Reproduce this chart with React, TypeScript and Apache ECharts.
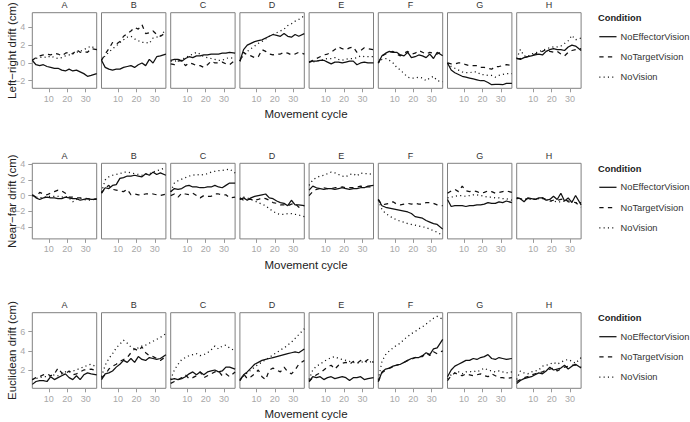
import React, { useEffect, useRef } from "react";
import * as echarts from "echarts";

const cycles = [1, 3, 5, 7, 9, 11, 13, 15, 17, 19, 21, 23, 25, 27, 29, 31, 33, 36];
const panels = ["A", "B", "C", "D", "E", "F", "G", "H"];
const conditions = ["NoEffectorVision", "NoTargetVision", "NoVision"];
const xTicks = [10, 20, 30];
const lrTicks = [-2, 0, 2, 4];
const nfTicks = [-4, -2, 0, 2, 4];
const euTicks = [2, 4, 6];

// Left-right drift (cm)
const lrNoEffector = [
  [0.3, -0.2, -0.3, -0.2, -0.4, -0.5, -0.6, -0.6, -0.8, -0.9, -0.7, -0.9, -0.8, -1.0, -1.2, -1.5, -1.4, -1.2],
  [0.3, -0.5, -0.7, -0.8, -0.7, -0.7, -0.5, -0.4, -0.3, -0.5, -0.2, 0.0, -0.3, 0.4, 0.0, 0.7, 0.8, 1.0],
  [0.3, 0.4, 0.4, 0.2, 0.5, 0.7, 0.6, 0.8, 0.8, 0.9, 0.9, 1.0, 1.0, 1.0, 1.1, 1.1, 1.2, 1.1],
  [0.2, 1.5, 2.0, 2.2, 2.4, 2.5, 2.6, 2.8, 3.0, 3.2, 3.1, 3.0, 3.3, 3.0, 2.9, 3.2, 3.0, 3.3],
  [0.1, 0.2, 0.2, 0.3, 0.3, 0.1, -0.1, 0.1, 0.1, 0.0, 0.1, 0.2, 0.2, -0.2, 0.0, 0.1, 0.0, 0.0],
  [0.0, 0.8, 1.1, 1.3, 1.2, 1.2, 0.9, 0.8, 1.2, 0.6, 0.7, 0.9, 0.8, 0.6, 1.0, 0.5, 1.2, 0.8],
  [0.0, -0.8, -1.1, -1.3, -1.5, -1.6, -1.7, -1.8, -1.9, -2.0, -2.0, -2.2, -2.45, -2.4, -2.4, -2.45, -2.3, -2.3],
  [0.5, 0.4, 0.6, 0.7, 0.8, 0.9, 1.0, 0.9, 1.3, 1.5, 1.6, 1.5, 1.5, 1.4, 1.8, 2.0, 1.9, 1.4],
];
const lrNoTarget = [
  [0.3, 0.6, 0.8, 0.9, 1.0, 0.9, 1.1, 1.0, 0.8, 1.1, 1.2, 1.0, 1.5, 1.2, 1.3, 1.2, 1.6, 1.5],
  [0.3, 1.0, 1.6, 2.3, 2.1, 2.4, 3.0, 3.3, 3.6, 4.0, 3.8, 4.3, 3.3, 3.4, 3.6, 3.2, 3.0, 3.4],
  [-0.1, -0.2, 0.2, 0.3, -0.3, 0.0, -0.1, -0.3, -0.3, -0.5, -0.2, 0.2, 0.0, 0.0, 0.1, -0.1, -0.2, 0.3],
  [0.2, 1.2, 0.9, 0.8, 0.6, 0.7, 1.5, 1.3, 1.0, 0.9, 1.0, 1.0, 1.2, 1.1, 0.9, 1.0, 1.2, 1.0],
  [0.1, 0.3, 0.5, 0.7, 0.9, 1.0, 1.2, 1.5, 1.8, 1.6, 1.5, 1.7, 1.8, 1.2, 1.4, 1.7, 1.6, 1.5],
  [0.0, 0.8, 1.0, 1.2, 1.3, 1.0, 0.8, 1.1, 1.3, 1.0, 1.1, 1.4, 1.2, 1.0, 1.2, 1.1, 1.0, 1.3],
  [0.0, -0.1, -0.1, 0.0, 0.0, -0.2, -0.3, -0.3, -0.3, -0.5, -0.5, -0.6, -0.7, -0.4, -0.4, -0.3, -0.2, -0.3],
  [0.5, 0.5, 0.6, 0.7, 0.9, 1.0, 1.2, 1.3, 1.5, 1.3, 1.2, 1.3, 1.0, 0.8, 1.2, 1.4, 1.5, 1.6],
];
const lrNoVision = [
  [0.3, 0.5, 0.6, 0.7, 0.6, 0.8, 0.6, 0.5, 0.6, 0.8, 0.9, 1.1, 1.2, 1.3, 1.5, 1.7, 1.9, 1.5],
  [0.3, 0.8, 1.2, 1.6, 1.9, 2.3, 2.6, 2.9, 3.0, 2.7, 2.5, 2.3, 2.3, 2.2, 2.8, 2.9, 3.0, 3.8],
  [0.2, 0.2, 0.3, 0.4, 0.6, 0.8, 1.0, 1.2, 1.0, 0.7, 0.6, 0.5, 0.4, 0.3, 0.3, 0.5, 0.6, 0.5],
  [0.2, 0.9, 1.3, 1.6, 1.9, 2.2, 2.4, 2.7, 3.0, 3.2, 3.4, 3.6, 3.8, 4.2, 4.4, 4.7, 4.9, 5.3],
  [0.1, 0.1, 0.2, 0.3, 0.4, 0.5, 0.5, 0.6, 0.4, 0.3, 0.4, 0.5, 0.5, 0.6, 0.8, 0.7, 0.7, 0.7],
  [0.0, 0.4, 0.5, 0.3, 0.0, -0.5, -0.8, -1.2, -1.6, -1.7, -1.7, -1.6, -1.7, -2.0, -1.7, -1.5, -2.0, -2.1],
  [0.0, -0.4, -0.6, -0.8, -1.0, -1.1, -1.1, -1.0, -1.0, -1.3, -1.3, -1.4, -1.4, -1.6, -1.4, -1.3, -1.2, -1.2],
  [0.5, 1.5, 0.8, 0.7, 1.0, 1.1, 1.3, 1.4, 1.6, 1.7, 1.8, 1.8, 1.9, 2.2, 2.5, 3.1, 2.6, 2.8],
];

// Near-far drift (cm)
const nfNoEffector = [
  [0.1, -0.3, -0.5, -0.3, -0.2, -0.3, -0.3, -0.4, -0.4, -0.2, -0.3, -0.4, -0.4, -0.6, -0.5, -0.4, -0.5, -0.5],
  [0.3, 1.0, 0.9, 1.3, 1.4, 2.2, 2.3, 2.5, 2.5, 2.6, 2.5, 2.4, 2.8, 2.6, 3.0, 2.7, 2.9, 2.6],
  [0.5, 0.9, 0.8, 0.9, 1.2, 1.3, 1.1, 1.1, 1.0, 1.0, 1.1, 1.1, 1.3, 1.1, 1.0, 1.3, 1.6, 1.6],
  [-0.5, -0.3, -0.6, -0.3, -0.1, 0.0, 0.1, 0.2, -0.3, -0.4, -0.7, -0.9, -1.0, -1.3, -0.6, -1.2, -1.2, -1.3],
  [0.7, 1.2, 1.0, 0.9, 0.8, 0.9, 0.9, 0.8, 0.9, 1.0, 0.9, 0.8, 0.9, 0.9, 1.0, 1.0, 1.2, 1.3],
  [-0.5, -1.3, -1.5, -1.6, -1.7, -1.8, -1.9, -2.0, -2.1, -2.3, -2.7, -2.8, -2.9, -3.2, -3.4, -3.6, -3.7, -4.3],
  [-0.5, -1.4, -1.3, -1.3, -1.3, -1.4, -1.3, -1.3, -1.2, -1.2, -1.1, -0.9, -1.0, -1.0, -0.8, -0.9, -0.7, -0.9],
  [-0.3, -0.4, -0.8, -0.3, -0.4, -0.5, -0.3, -0.3, -0.6, -0.5, -0.1, -0.5, 0.3, -0.7, -0.3, -0.9, 0.0, -1.2],
];
const nfNoTarget = [
  [0.1, -0.2, 0.4, 0.2, 0.1, 0.3, 0.5, 0.7, 0.6, 0.3, -0.2, -0.2, -0.3, -0.3, -0.3, -0.4, -0.5, -0.4],
  [0.3, 1.0, 1.3, 0.8, 0.7, 0.6, 0.5, 0.8, 0.1, 0.2, 0.1, 0.1, 0.2, 0.2, 0.2, 0.1, 0.0, 0.2],
  [0.0, 0.2, -0.2, 0.3, 0.2, 0.1, 0.3, 0.0, -0.3, 0.0, -0.1, -0.1, 0.2, 0.2, 0.1, 0.1, -0.3, -0.2],
  [-0.3, -0.6, -0.5, -0.5, -0.6, -0.5, -0.3, -0.4, -0.6, -0.9, -1.0, -1.2, -1.2, -1.3, -1.1, -1.0, -1.5, -1.3],
  [0.0, 0.5, 0.8, 0.9, 1.0, 0.9, 0.9, 1.0, 1.0, 1.1, 1.0, 1.0, 1.0, 1.1, 1.2, 1.1, 1.1, 1.1],
  [-0.5, -1.2, -1.1, -1.0, -0.8, -1.1, -1.2, -1.1, -1.0, -1.1, -1.0, -1.1, -1.1, -0.9, -0.9, -1.0, -1.2, -1.3],
  [0.3, 0.6, 0.8, 0.5, 1.2, 0.6, 0.5, 0.6, 0.5, 0.3, 0.4, 0.6, 0.5, 0.3, 0.4, 0.5, 0.6, 0.4],
  [-0.3, -0.4, -0.5, -0.4, -0.3, -0.5, -0.4, -0.3, -0.5, -0.7, -0.6, -0.6, -0.5, -0.4, -0.8, -0.8, -0.9, -1.5],
];
const nfNoVision = [
  [0.0, -0.2, -0.3, -0.2, -0.1, -0.1, -0.1, -0.1, -0.2, -0.1, -0.3, -0.8, -0.5, -0.4, -0.5, -0.6, -0.6, -0.4],
  [0.4, 2.0, 2.4, 2.6, 2.7, 2.8, 3.0, 3.0, 2.9, 2.8, 2.7, 2.6, 2.7, 2.8, 3.0, 3.2, 3.3, 3.6],
  [0.5, 1.6, 1.9, 2.1, 2.3, 2.5, 2.6, 2.7, 2.6, 2.7, 2.8, 3.0, 3.1, 3.2, 3.2, 3.3, 3.4, 2.9],
  [-0.5, -0.2, -0.3, -0.5, -0.7, -0.9, -1.1, -1.3, -1.7, -2.0, -2.3, -2.4, -2.4, -2.3, -2.3, -2.4, -2.5, -2.7],
  [1.3, 2.0, 2.3, 2.5, 2.6, 2.8, 3.0, 2.9, 2.7, 2.5, 2.4, 2.7, 2.8, 2.5, 2.9, 2.8, 2.8, 2.7],
  [-0.6, -1.8, -2.3, -2.6, -2.9, -3.1, -3.3, -3.4, -3.6, -3.7, -3.8, -3.9, -4.0, -4.1, -4.3, -4.5, -4.7, -5.1],
  [-0.3, -0.2, -0.1, 0.0, 0.0, -0.1, 0.0, 0.1, 0.1, 0.0, -0.1, -0.2, -0.2, -0.3, -0.3, -0.4, -0.4, -0.6],
  [-0.4, -0.4, -0.5, -0.5, -0.5, -0.5, -0.4, -0.4, -0.5, -0.7, -0.7, -0.8, -0.8, -0.7, -0.6, -0.7, -0.9, -0.9],
];

// Euclidean drift (cm)
const euNoEffector = [
  [0.5, 0.8, 0.9, 0.9, 0.8, 1.3, 1.0, 1.2, 1.4, 1.6, 1.2, 1.0, 1.4, 1.0, 1.5, 1.7, 1.6, 1.5],
  [1.0, 1.6, 1.7, 1.9, 2.3, 2.6, 3.0, 2.8, 3.2, 2.8, 3.4, 3.1, 3.0, 3.3, 3.2, 3.1, 3.2, 3.6],
  [1.0, 1.1, 1.0, 1.1, 1.3, 1.6, 1.8, 1.5, 1.8, 1.5, 1.8, 1.9, 2.0, 1.8, 1.9, 2.3, 2.3, 2.1],
  [0.9, 1.5, 1.8, 2.2, 2.6, 2.8, 3.0, 3.1, 3.2, 3.3, 3.4, 3.5, 3.6, 3.7, 3.8, 3.9, 3.8, 4.2],
  [0.8, 1.3, 1.2, 1.3, 1.0, 1.2, 1.3, 1.1, 1.2, 1.3, 1.2, 0.9, 1.2, 1.2, 1.3, 1.0, 1.1, 1.2],
  [0.8, 1.8, 2.1, 2.2, 2.4, 2.5, 2.6, 2.8, 3.0, 3.2, 3.3, 3.3, 3.5, 3.8, 3.6, 4.2, 4.3, 5.2],
  [1.3, 2.0, 2.4, 2.6, 2.8, 3.0, 3.0, 3.2, 3.1, 3.3, 3.4, 3.6, 3.2, 3.1, 3.3, 3.2, 3.1, 3.2],
  [0.6, 0.9, 1.1, 1.2, 1.3, 1.5, 1.7, 1.6, 1.9, 2.3, 2.0, 2.1, 2.2, 2.5, 2.1, 2.4, 2.6, 2.2],
];
const euNoTarget = [
  [1.0, 1.2, 1.3, 1.5, 1.6, 1.4, 1.6, 2.2, 1.7, 1.6, 1.9, 1.5, 1.6, 1.8, 2.0, 2.0, 2.1, 1.9],
  [1.2, 1.5, 2.1, 2.4, 2.6, 2.9, 3.1, 3.3, 3.8, 4.2, 4.0, 4.4, 3.8, 3.5, 3.4, 3.2, 3.0, 3.4],
  [0.6, 0.8, 1.0, 1.2, 1.5, 1.1, 1.2, 1.4, 1.8, 1.2, 1.4, 1.6, 1.8, 1.9, 1.4, 1.6, 1.3, 1.8],
  [0.9, 1.6, 1.1, 1.3, 1.6, 2.0, 1.3, 1.0, 2.0, 2.2, 2.0, 1.8, 2.3, 1.8, 1.6, 2.0, 2.6, 3.0],
  [0.8, 1.2, 1.5, 1.7, 2.0, 2.3, 2.5, 2.1, 2.5, 2.7, 2.8, 2.6, 2.9, 2.7, 3.0, 2.8, 3.1, 2.8],
  [0.8, 1.7, 2.0, 2.2, 2.3, 2.5, 2.6, 2.8, 3.0, 3.1, 3.3, 3.4, 3.4, 3.8, 3.5, 3.9, 3.7, 4.0],
  [0.9, 1.4, 1.7, 1.5, 1.4, 1.6, 1.5, 1.4, 1.5, 1.6, 1.4, 1.3, 1.6, 1.4, 1.2, 1.2, 1.1, 1.2],
  [0.8, 1.0, 1.2, 1.3, 1.5, 1.6, 1.7, 1.8, 2.0, 2.1, 2.2, 1.9, 2.1, 2.3, 2.4, 2.5, 2.5, 2.3],
];
const euNoVision = [
  [1.0, 1.1, 1.2, 1.3, 1.3, 1.4, 1.5, 1.4, 1.6, 1.8, 1.8, 1.9, 2.0, 2.2, 2.3, 2.5, 2.6, 2.3],
  [1.3, 2.5, 3.2, 3.7, 4.3, 4.7, 5.1, 4.8, 4.4, 4.2, 4.3, 4.5, 4.6, 4.8, 5.0, 5.2, 5.4, 5.8],
  [1.0, 2.0, 2.6, 3.1, 3.3, 3.5, 3.6, 3.7, 3.5, 3.6, 3.8, 4.1, 4.5, 4.2, 4.5, 4.6, 4.3, 4.0],
  [1.0, 1.4, 1.7, 2.0, 2.3, 2.6, 2.8, 3.1, 3.3, 3.6, 3.8, 4.1, 4.3, 4.6, 4.9, 5.3, 5.7, 6.3],
  [1.0, 2.0, 2.4, 2.6, 2.9, 3.1, 3.3, 3.4, 3.2, 3.1, 3.0, 2.9, 2.8, 2.7, 2.8, 2.9, 2.8, 2.9],
  [1.0, 2.9, 3.6, 4.0, 4.3, 4.6, 4.8, 5.2, 5.5, 5.8, 6.0, 6.3, 6.5, 6.8, 7.1, 7.4, 7.6, 7.3],
  [1.1, 1.5, 1.7, 1.8, 1.6, 1.8, 1.8, 1.9, 1.8, 2.0, 2.2, 2.0, 1.9, 1.8, 1.9, 1.8, 1.7, 1.8],
  [1.0, 1.9, 1.7, 1.6, 1.8, 1.9, 2.0, 2.4, 2.5, 2.6, 2.8, 2.6, 2.8, 3.0, 3.1, 2.9, 2.7, 3.3],
];

const rows = [
  { title: "Left\u2212right drift (cm)", ymin: -2.85, ymax: 5.65, ticks: lrTicks, series: [lrNoEffector, lrNoTarget, lrNoVision] },
  { title: "Near\u2212far drift (cm)", ymin: -5.55, ymax: 4.13, ticks: nfTicks, series: [nfNoEffector, nfNoTarget, nfNoVision] },
  { title: "Euclidean drift (cm)", ymin: 0.09, ymax: 7.98, ticks: euTicks, series: [euNoEffector, euNoTarget, euNoVision] },
];

const FONT = "'Liberation Sans', Arial, Helvetica, sans-serif";
const rowTops = [12.7, 163.3, 312.7];
const panelH = 75.6;
const panelW = 64.4;
const panelLeft0 = 32.3;
const panelStep = 69.2;
const dashStyles: any[] = ["solid", [4.3, 4.3], [1.1, 3.2]];
const LINE = "#111";

const fmt = (v: number) => (v < 0 ? "\u2212" + Math.abs(v) : String(v));

export default function App() {
  const ref = useRef<HTMLDivElement>(null);
  useEffect(() => {
    if (!ref.current) return;
    const chart = echarts.init(ref.current, undefined, { renderer: "svg" });
    const grids: any[] = [];
    const xAxes: any[] = [];
    const yAxes: any[] = [];
    const series: any[] = [];
    const graphic: any[] = [];

    rows.forEach((row, r) => {
      const top = rowTops[r];
      panels.forEach((p, i) => {
        const idx = r * 8 + i;
        const left = panelLeft0 + i * panelStep;
        grids.push({
          left, top, width: panelW, height: panelH,
          show: true, borderColor: "#808080", borderWidth: 1, backgroundColor: "transparent",
        });
        xAxes.push({
          type: "value", gridIndex: idx, min: 1, max: 36, position: "bottom",
          axisLine: { show: false, onZero: false }, splitLine: { show: false },
          axisTick: { show: true, length: 4, lineStyle: { color: "#9a9a9a", width: 1 }, customValues: xTicks },
          axisLabel: { show: true, customValues: xTicks, color: "#a8a8a8", fontSize: 9, fontFamily: FONT, margin: 6 },
        });
        const showY = i === 0;
        yAxes.push({
          type: "value", gridIndex: idx, min: row.ymin, max: row.ymax, position: "left",
          axisLine: { show: false, onZero: false }, splitLine: { show: false },
          axisTick: { show: showY, length: 4, lineStyle: { color: "#9a9a9a", width: 1 }, customValues: row.ticks },
          axisLabel: { show: showY, customValues: row.ticks, color: "#a8a8a8", fontSize: 9, fontFamily: FONT, margin: 7, formatter: fmt },
        });
        row.series.forEach((cond, c) => {
          series.push({
            type: "line", name: conditions[c], xAxisIndex: idx, yAxisIndex: idx,
            data: cycles.map((x, k) => [x, cond[i][k]]),
            showSymbol: false, symbol: "none", silent: true,
            lineStyle: { color: LINE, width: 1.25, type: dashStyles[c] },
          });
        });
        graphic.push({
          type: "text", x: left + panelW / 2, y: top - 7.7, silent: true,
          style: { text: p, fontSize: 9, fontFamily: FONT, fill: "#333333", align: "center", verticalAlign: "middle" },
        });
      });
      // axis titles
      graphic.push({
        type: "text", x: 306, y: top + panelH + 26, silent: true,
        style: { text: "Movement cycle", fontSize: 11.5, fontFamily: FONT, fill: "#222222", align: "center", verticalAlign: "middle" },
      });
      graphic.push({
        type: "text", x: 11.5, y: top + panelH / 2, rotation: Math.PI / 2, silent: true,
        style: { text: row.title, fontSize: 11.5, fontFamily: FONT, fill: "#222222", align: "center", verticalAlign: "middle" },
      });
      // legend
      graphic.push({
        type: "text", x: 598, y: top + 5.5, silent: true,
        style: { text: "Condition", fontSize: 9.3, fontWeight: "bold", fontFamily: FONT, fill: "#222222", align: "left", verticalAlign: "middle" },
      });
      const offs = [24, 44.2, 64.5];
      conditions.forEach((name, c) => {
        const y = top + offs[c];
        graphic.push({
          type: "line", silent: true,
          shape: { x1: 599.3, y1: y, x2: 616.5, y2: y },
          style: { stroke: LINE, lineWidth: 1.25, lineDash: c === 0 ? null : dashStyles[c] },
        });
        graphic.push({
          type: "text", x: 620.5, y, silent: true,
          style: { text: name, fontSize: 9.3, fontFamily: FONT, fill: "#333333", align: "left", verticalAlign: "middle" },
        });
      });
    });

    chart.setOption({
      animation: false,
      textStyle: { fontFamily: FONT },
      grid: grids,
      xAxis: xAxes,
      yAxis: yAxes,
      series,
      graphic,
    });
    return () => chart.dispose();
  }, []);
  return (
    <div
      ref={ref}
      style={{ position: "fixed", left: 0, top: 0, width: 690, height: 422, background: "#fff" }}
    />
  );
}
